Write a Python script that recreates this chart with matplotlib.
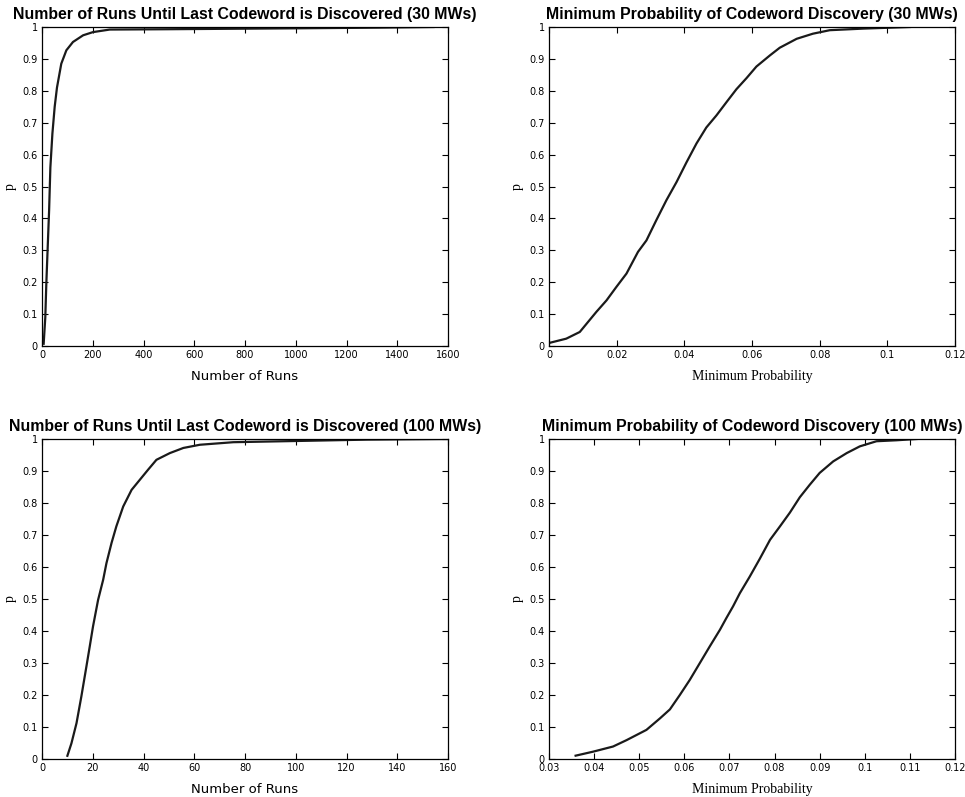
import matplotlib
matplotlib.use("Agg")
import matplotlib.pyplot as plt

# 30 MWs: runs until last codeword is discovered (empirical CDF)
runs30_x = [6.6, 13, 17, 22, 28, 33, 41, 50, 59, 76, 96, 122, 162, 201, 267, 491, 1017, 1333, 1543]
runs30_p = [0.007, 0.09, 0.195, 0.3, 0.425, 0.56, 0.666, 0.75, 0.81, 0.885, 0.927, 0.953,
            0.974, 0.984, 0.992, 0.993, 0.996, 0.998, 1.0]

# 30 MWs: minimum probability of codeword discovery
minp30_x = [0.0, 0.0051, 0.0091, 0.014, 0.017, 0.0199, 0.0229, 0.0263, 0.0288, 0.0317,
            0.0347, 0.0377, 0.0406, 0.0436, 0.0465, 0.0495, 0.0525, 0.0554, 0.0584,
            0.0613, 0.0653, 0.0682, 0.0732, 0.078, 0.083, 0.093, 0.1067]
minp30_p = [0.0094, 0.023, 0.044, 0.107, 0.143, 0.185, 0.227, 0.295, 0.331, 0.394,
            0.457, 0.514, 0.575, 0.635, 0.685, 0.723, 0.765, 0.805, 0.84,
            0.876, 0.911, 0.935, 0.963, 0.979, 0.99, 0.995, 1.0]

# 100 MWs: runs until last codeword is discovered
runs100_x = [10, 11.6, 13.6, 15.5, 17.5, 18.8, 20.1, 22.1, 24.1, 25.4, 27.4, 29.3, 32,
             35.3, 38.6, 41.8, 45.1, 50.4, 55.7, 62.2, 75.4, 101.7, 128, 159.6]
runs100_p = [0.01, 0.049, 0.112, 0.195, 0.289, 0.351, 0.414, 0.497, 0.56, 0.612, 0.675,
             0.727, 0.789, 0.841, 0.873, 0.904, 0.935, 0.956, 0.972, 0.982, 0.99,
             0.994, 0.998, 1.0]

# 100 MWs: minimum probability of codeword discovery
minp100_x = [0.0359, 0.0398, 0.0442, 0.0472, 0.0516, 0.0546, 0.0568, 0.059, 0.0612,
             0.0634, 0.0656, 0.0679, 0.0693, 0.0708, 0.0723, 0.0745, 0.0767, 0.079,
             0.0812, 0.0834, 0.0856, 0.0878, 0.09, 0.093, 0.096, 0.0989, 0.1026,
             0.107, 0.1115]
minp100_p = [0.0104, 0.023, 0.039, 0.059, 0.091, 0.127, 0.155, 0.2, 0.247,
             0.299, 0.351, 0.404, 0.44, 0.477, 0.518, 0.57, 0.625, 0.685,
             0.727, 0.77, 0.818, 0.857, 0.894, 0.93, 0.956, 0.977, 0.993,
             0.996, 1.0]

yticks = [0, 0.1, 0.2, 0.3, 0.4, 0.5, 0.6, 0.7, 0.8, 0.9, 1]
ytick_labels = ["0", "0.1", "0.2", "0.3", "0.4", "0.5", "0.6", "0.7", "0.8", "0.9", "1"]

W, H = 965, 797
fig = plt.figure(figsize=(W / 100, H / 100), dpi=100)


def add_axes(l, t, r, b):
    return fig.add_axes([l / W, 1 - b / H, (r - l) / W, (b - t) / H])


panels = [
    dict(box=(42, 27, 448, 346), x=runs30_x, p=runs30_p,
         title="Number of Runs Until Last Codeword is Discovered (30 MWs)",
         xlim=(0, 1600), xticks=[0, 200, 400, 600, 800, 1000, 1200, 1400, 1600],
         xlabel="Number of Runs", serif=False),
    dict(box=(549, 27, 955, 346), x=minp30_x, p=minp30_p,
         title="Minimum Probability of Codeword Discovery (30 MWs)",
         xlim=(0, 0.12), xticks=[0, 0.02, 0.04, 0.06, 0.08, 0.1, 0.12],
         xlabel="Minimum Probability", serif=True),
    dict(box=(42, 439, 448, 759), x=runs100_x, p=runs100_p,
         title="Number of Runs Until Last Codeword is Discovered (100 MWs)",
         xlim=(0, 160), xticks=[0, 20, 40, 60, 80, 100, 120, 140, 160],
         xlabel="Number of Runs", serif=False),
    dict(box=(549, 439, 955, 759), x=minp100_x, p=minp100_p,
         title="Minimum Probability of Codeword Discovery (100 MWs)",
         xlim=(0.03, 0.12), xticks=[0.03, 0.04, 0.05, 0.06, 0.07, 0.08, 0.09, 0.1, 0.11, 0.12],
         xlabel="Minimum Probability", serif=True),
]

for pn in panels:
    ax = add_axes(*pn["box"])
    ax.plot(pn["x"], pn["p"], color="#1a1a1a", lw=1.6, solid_joinstyle="round")
    ax.set_xlim(*pn["xlim"])
    ax.set_ylim(0, 1)
    ax.set_xticks(pn["xticks"])
    ax.set_xticklabels([f"{v:g}" for v in pn["xticks"]])
    ax.set_yticks(yticks)
    ax.set_yticklabels(ytick_labels)
    ax.tick_params(direction="in", top=True, right=True, length=4, width=0.8,
                   labelsize=7, pad=3)
    for s in ax.spines.values():
        s.set_linewidth(0.9)
    ax.set_title(pn["title"], fontsize=11.4, fontweight="bold",
                 family="Liberation Sans", pad=6)
    if pn["serif"]:
        ax.set_xlabel(pn["xlabel"], fontsize=10, family="Liberation Serif", labelpad=7)
    else:
        ax.set_xlabel(pn["xlabel"], fontsize=9.5, family="DejaVu Sans", labelpad=7)
    ax.set_ylabel("p", fontsize=10, family="Liberation Serif", labelpad=4)

fig.savefig("out.png", dpi=100)
